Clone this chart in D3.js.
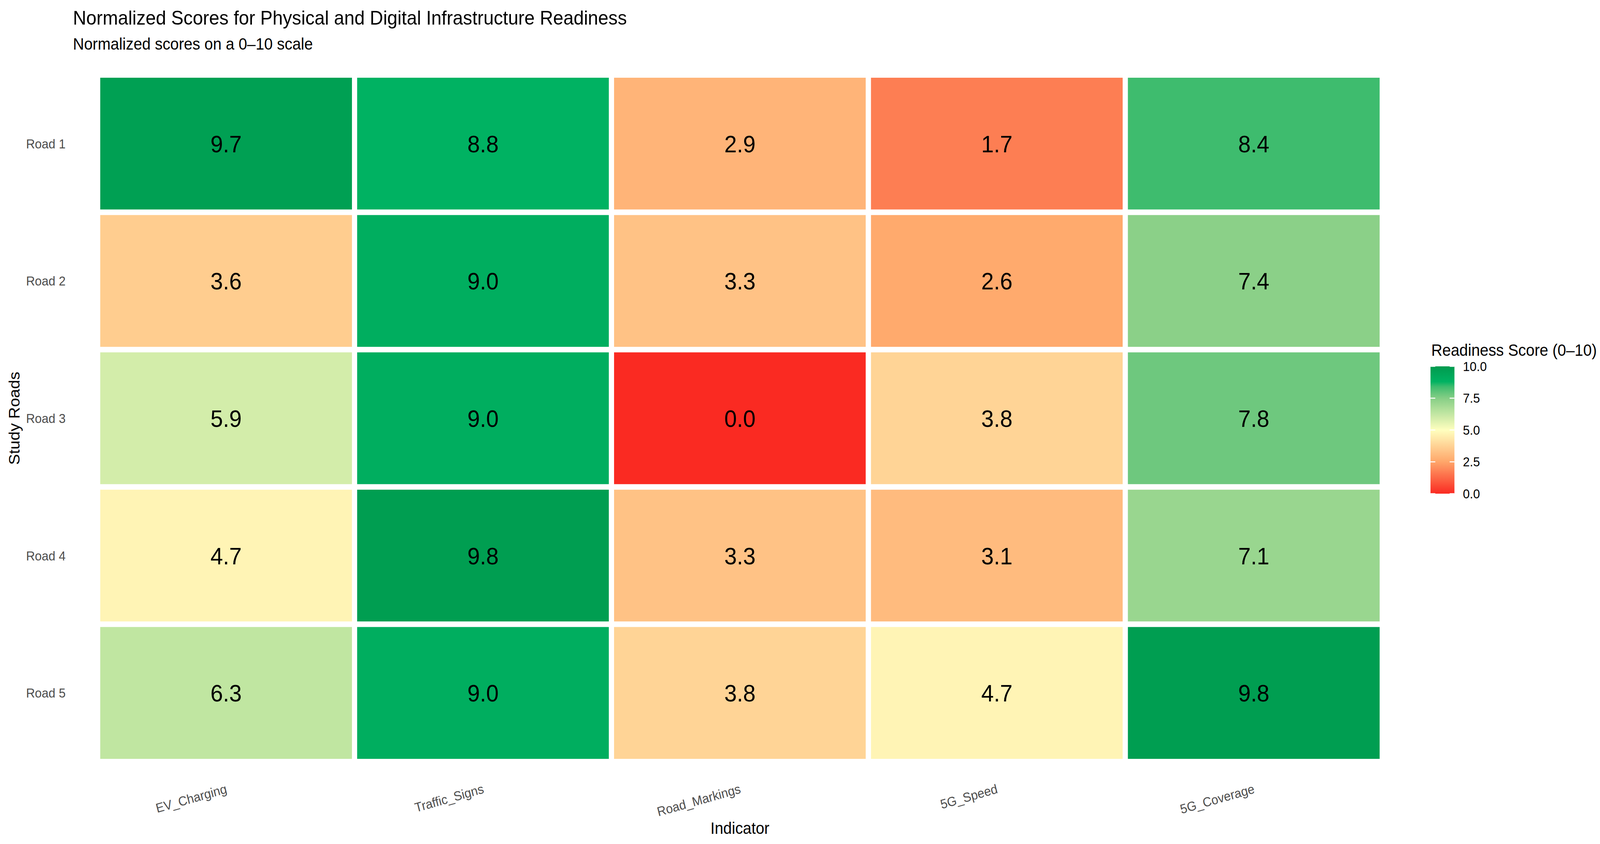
<!DOCTYPE html>
<html>
<head>
<meta charset="utf-8">
<script src="https://cdn.jsdelivr.net/npm/d3@7"></script>
<style>
html, body { margin: 0; padding: 0; background: #fff; overflow: hidden; }
svg { display: block; }
text { font-family: "Liberation Sans", Arial, Helvetica, sans-serif; }
</style>
</head>
<body>
<div id="chart"></div>
<script>
// data
var roads = ["Road 1", "Road 2", "Road 3", "Road 4", "Road 5"];
var indicators = ["EV_Charging", "Traffic_Signs", "Road_Markings", "5G_Speed", "5G_Coverage"];
var evCharging   = [9.7, 3.6, 5.9, 4.7, 6.3];
var trafficSigns = [8.8, 9.0, 9.0, 9.8, 9.0];
var roadMarkings = [2.9, 3.3, 0.0, 3.3, 3.8];
var speed5g      = [1.7, 2.6, 3.8, 3.1, 4.7];
var coverage5g   = [8.4, 7.4, 7.8, 7.1, 9.8];
var legendTicks  = [0, 2.5, 5, 7.5, 10];

var series = [evCharging, trafficSigns, roadMarkings, speed5g, coverage5g];
var cells = [];
indicators.forEach(function(ind, i) {
	roads.forEach(function(r, j) {
		cells.push({ indicator: ind, road: r, value: series[i][j] });
	});
});

var width = 4342, height = 2161;
// viewBox stretched to the window so the chart fills it whatever the css size is
var svg = d3.select("#chart").append("svg")
	.attr("viewBox", "0 0 " + width + " " + height)
	.attr("preserveAspectRatio", "none")
	.style("width", "100vw").style("height", "100vh")
	.style("background", "#fff");

var x = d3.scaleBand().domain(indicators).range([265, 3751]);
var y = d3.scaleBand().domain(roads).range([192, 1950]);

var color = d3.scaleLinear()
	.domain([0, 2.5, 5, 7.5, 8.4, 8.8, 10])
	.range(["#FA2A22", "#FFA66A", "#FFFFBF", "#86CE86", "#3EBC6E", "#00B262", "#009A4E"])
	.clamp(true);

// tiles
svg.append("g").selectAll("rect").data(cells).enter().append("rect")
	.attr("x", function(d) { return x(d.indicator); })
	.attr("y", function(d) { return y(d.road); })
	.attr("width", x.bandwidth())
	.attr("height", y.bandwidth())
	.attr("fill", function(d) { return color(d.value); })
	.attr("stroke", "#fff")
	.attr("stroke-width", 14);

// value labels
svg.append("g").selectAll("text").data(cells).enter().append("text")
	.attr("x", function(d) { return x(d.indicator) + x.bandwidth() / 2; })
	.attr("y", function(d) { return y(d.road) + y.bandwidth() / 2; })
	.attr("dy", "0.36em")
	.attr("text-anchor", "middle")
	.attr("font-size", 61)
	.attr("fill", "#000")
	.text(function(d) { return d.value.toFixed(1); });

// y axis labels
svg.append("g").selectAll("text").data(roads).enter().append("text")
	.attr("x", 178)
	.attr("y", function(d) { return y(d) + y.bandwidth() / 2; })
	.attr("dy", "0.36em")
	.attr("text-anchor", "end")
	.attr("font-size", 33.3)
	.attr("fill", "#4D4D4D")
	.text(function(d) { return d; });

// x axis labels, tilted
svg.append("g").selectAll("text").data(indicators).enter().append("text")
	.attr("transform", function(d) {
		return "translate(" + (x(d) + x.bandwidth() / 2 + 4) + ",2030) rotate(-15)";
	})
	.attr("text-anchor", "end")
	.attr("font-size", 33.3)
	.attr("fill", "#4D4D4D")
	.text(function(d) { return d; });

// axis titles
svg.append("text")
	.attr("x", 2008).attr("y", 2135)
	.attr("text-anchor", "middle")
	.attr("font-size", 41.7)
	.attr("fill", "#000")
	.text("Indicator");

svg.append("text")
	.attr("transform", "translate(53,1071) rotate(-90)")
	.attr("text-anchor", "middle")
	.attr("font-size", 41.7)
	.attr("fill", "#000")
	.text("Study Roads");

// titles
svg.append("text")
	.attr("x", 198).attr("y", 63)
	.attr("font-size", 50)
	.attr("fill", "#000")
	.text("Normalized Scores for Physical and Digital Infrastructure Readiness");

svg.append("text")
	.attr("x", 198).attr("y", 127)
	.attr("font-size", 41.7)
	.attr("fill", "#000")
	.text("Normalized scores on a 0\u201310 scale");

// legend
var ly = d3.scaleLinear().domain([0, 10]).range([1264, 938]);
var defs = svg.append("defs");
var grad = defs.append("linearGradient")
	.attr("id", "lgrad")
	.attr("x1", 0).attr("y1", 1).attr("x2", 0).attr("y2", 0);
d3.range(0, 10.01, 0.2).forEach(function(v) {
	grad.append("stop")
		.attr("offset", (v / 10 * 100) + "%")
		.attr("stop-color", color(v));
});

var legend = svg.append("g");
legend.append("text")
	.attr("x", 3884).attr("y", 911)
	.attr("font-size", 41.7)
	.attr("fill", "#000")
	.text("Readiness Score (0\u201310)");

legend.append("rect")
	.attr("x", 3882).attr("y", ly(10))
	.attr("width", 65).attr("height", ly(0) - ly(10))
	.attr("fill", "url(#lgrad)");

legend.selectAll("line.tl").data(legendTicks).enter().append("line")
	.attr("class", "tl")
	.attr("x1", 3882).attr("x2", 3895)
	.attr("y1", function(d) { return ly(d); })
	.attr("y2", function(d) { return ly(d); })
	.attr("stroke", "#fff").attr("stroke-width", 2.5);
legend.selectAll("line.tr").data(legendTicks).enter().append("line")
	.attr("class", "tr")
	.attr("x1", 3934).attr("x2", 3947)
	.attr("y1", function(d) { return ly(d); })
	.attr("y2", function(d) { return ly(d); })
	.attr("stroke", "#fff").attr("stroke-width", 2.5);

legend.selectAll("text.lab").data(legendTicks).enter().append("text")
	.attr("class", "lab")
	.attr("x", 3970)
	.attr("y", function(d) { return ly(d); })
	.attr("dy", "0.36em")
	.attr("font-size", 33.3)
	.attr("fill", "#000")
	.text(function(d) { return d.toFixed(1); });
</script>
</body>
</html>
